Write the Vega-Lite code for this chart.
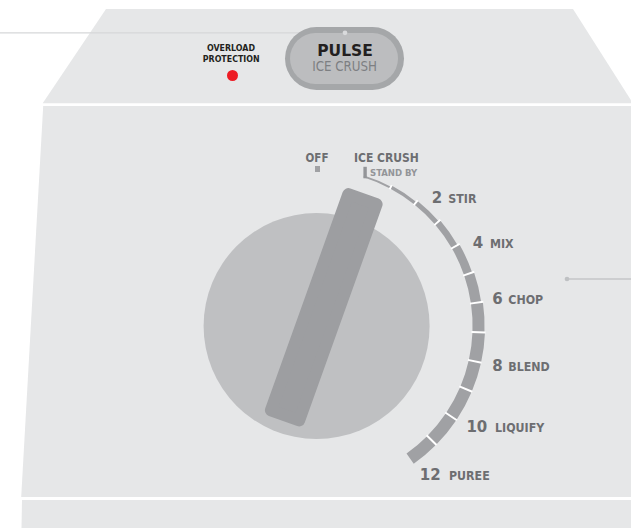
{
  "$schema": "https://vega.github.io/schema/vega-lite/v6.json",
  "width": 631,
  "height": 528,
  "padding": 0,
  "autosize": {"type": "none"},
  "background": "#ffffff",
  "config": {"view": {"stroke": null}},
  "layer": [
    {
      "data": {"values": [
        {"part": "top", "y": 9, "xl": 106, "xr": 573},
        {"part": "top", "y": 103.3, "xl": 42.7, "xr": 633},
        {"part": "front", "y": 106, "xl": 43.2, "xr": 633},
        {"part": "front", "y": 497, "xl": 21.2, "xr": 633},
        {"part": "bottom", "y": 500, "xl": 22.0, "xr": 633},
        {"part": "bottom", "y": 528, "xl": 21.5, "xr": 633}
      ]},
      "mark": {"type": "area", "orient": "horizontal", "color": "#e6e7e8"},
      "encoding": {
        "y": {"field": "y", "type": "quantitative", "scale": {"domain": [0, 528], "reverse": true, "nice": false, "zero": false}, "axis": null},
        "x": {"field": "xl", "type": "quantitative", "stack": null, "scale": {"domain": [0, 631], "nice": false, "zero": false}, "axis": null},
        "x2": {"field": "xr"},
        "detail": {"field": "part"}
      }
    },
    {
      "data": {"values": [{"x": 0, "x2": 345, "y": 32.8}]},
      "mark": {"type": "rule", "color": "#d6d7d9", "strokeWidth": 1.3},
      "encoding": {
        "x": {"field": "x", "type": "quantitative"},
        "x2": {"field": "x2"},
        "y": {"field": "y", "type": "quantitative"}
      }
    },
    {
      "data": {"values": [{"x": 567, "x2": 632, "y": 279}]},
      "mark": {"type": "rule", "color": "#c4c6c8", "strokeWidth": 1.3},
      "encoding": {
        "x": {"field": "x", "type": "quantitative"},
        "x2": {"field": "x2"},
        "y": {"field": "y", "type": "quantitative"}
      }
    },
    {
      "data": {"values": [{"x": 316.5, "x2": 372.5, "y": 58.5}]},
      "mark": {"type": "rule", "color": "#a5a7a9", "strokeWidth": 63, "strokeCap": "round"},
      "encoding": {
        "x": {"field": "x", "type": "quantitative"},
        "x2": {"field": "x2"},
        "y": {"field": "y", "type": "quantitative"}
      }
    },
    {
      "data": {"values": [{"x": 315.5, "x2": 372.5, "y": 58.5}]},
      "mark": {"type": "rule", "color": "#bcbdbf", "strokeWidth": 51, "strokeCap": "round"},
      "encoding": {
        "x": {"field": "x", "type": "quantitative"},
        "x2": {"field": "x2"},
        "y": {"field": "y", "type": "quantitative"}
      }
    },
    {
      "data": {"values": [{"x": 345, "y": 32.8}]},
      "mark": {"type": "circle", "color": "#d9dadc", "size": 22, "opacity": 1},
      "encoding": {
        "x": {"field": "x", "type": "quantitative"},
        "y": {"field": "y", "type": "quantitative"}
      }
    },
    {
      "data": {"values": [{"x": 567, "y": 279}]},
      "mark": {"type": "circle", "color": "#bfc1c3", "size": 22, "opacity": 1},
      "encoding": {
        "x": {"field": "x", "type": "quantitative"},
        "y": {"field": "y", "type": "quantitative"}
      }
    },
    {
      "data": {"values": [{"x": 232.5, "y": 75.5}]},
      "mark": {"type": "circle", "color": "#ed1c24", "size": 121, "opacity": 1},
      "encoding": {
        "x": {"field": "x", "type": "quantitative"},
        "y": {"field": "y", "type": "quantitative"}
      }
    },
    {
      "data": {"values": [
        {"label": "OVERLOAD", "x": 231, "y": 50.5},
        {"label": "PROTECTION", "x": 231.2, "y": 61.5}
      ]},
      "mark": {"type": "text", "align": "center", "baseline": "alphabetic", "font": "DejaVu Sans Condensed, sans-serif", "fontWeight": "bold", "fontSize": 8.8, "color": "#231f20"},
      "encoding": {
        "x": {"field": "x", "type": "quantitative"},
        "y": {"field": "y", "type": "quantitative"},
        "text": {"field": "label"}
      }
    },
    {
      "data": {"values": [{"label": "PULSE", "x": 345, "y": 56.3}]},
      "mark": {"type": "text", "align": "center", "baseline": "alphabetic", "font": "DejaVu Sans", "fontWeight": "bold", "fontSize": 15.5, "color": "#231f20"},
      "encoding": {
        "x": {"field": "x", "type": "quantitative"},
        "y": {"field": "y", "type": "quantitative"},
        "text": {"field": "label"}
      }
    },
    {
      "data": {"values": [{"label": "ICE CRUSH", "x": 344.5, "y": 71}]},
      "mark": {"type": "text", "align": "center", "baseline": "alphabetic", "font": "DejaVu Sans Condensed, sans-serif", "fontSize": 13.2, "color": "#7d7f82"},
      "encoding": {
        "x": {"field": "x", "type": "quantitative"},
        "y": {"field": "y", "type": "quantitative"},
        "text": {"field": "label"}
      }
    },
    {
      "data": {"values": [{"cx": 316.6, "cy": 326, "t0": 0, "t1": 360, "r": 113}]},
      "mark": {"type": "arc", "color": "#bfc0c2"},
      "encoding": {
        "x": {"field": "cx", "type": "quantitative"},
        "y": {"field": "cy", "type": "quantitative"},
        "theta": {"field": "t0", "type": "quantitative", "stack": null, "scale": {"type": "linear", "domain": [0, 360], "range": [0, 6.283185307179586], "zero": false, "nice": false}},
        "theta2": {"field": "t1"},
        "radius": {"field": "r", "type": "quantitative", "scale": {"type": "linear", "domain": [0, 200], "range": [0, 200], "zero": false, "nice": false}}
      }
    },
    {
      "data": {"values": [{"x": 362.48, "y": 199.15, "x2": 285.02, "y2": 415.35}]},
      "mark": {"type": "rule", "color": "#9d9ea1", "strokeWidth": 30, "strokeCap": "butt"},
      "encoding": {
        "x": {"field": "x", "type": "quantitative"},
        "y": {"field": "y", "type": "quantitative"},
        "x2": {"field": "x2"},
        "y2": {"field": "y2"}
      }
    },
    {
      "data": {"values": [
        {"i": 0, "x": 348.36, "y": 194.09},
        {"i": 1, "x": 376.60, "y": 204.21},
        {"i": 2, "x": 299.14, "y": 420.41},
        {"i": 3, "x": 270.90, "y": 410.29},
        {"i": 4, "x": 348.36, "y": 194.09}
      ]},
      "mark": {"type": "line", "color": "#9d9ea1", "strokeWidth": 12, "strokeJoin": "round", "strokeCap": "round"},
      "encoding": {
        "x": {"field": "x", "type": "quantitative"},
        "y": {"field": "y", "type": "quantitative"},
        "order": {"field": "i", "type": "quantitative"}
      }
    },
    {
      "data": {"values": [
        {"speed": 1, "cx": 316.6, "cy": 326, "t0": 17.5, "t1": 28.1, "ro": 157.8, "ri": 156},
        {"speed": 2, "cx": 316.6, "cy": 326, "t0": 28.1, "t1": 38.8, "ro": 159.2, "ri": 156},
        {"speed": 3, "cx": 316.6, "cy": 326, "t0": 38.8, "t1": 49.4, "ro": 160.8, "ri": 156},
        {"speed": 4, "cx": 316.6, "cy": 326, "t0": 49.4, "t1": 60.1, "ro": 162.6, "ri": 156},
        {"speed": 5, "cx": 316.6, "cy": 326, "t0": 60.1, "t1": 71.0, "ro": 164.5, "ri": 156},
        {"speed": 6, "cx": 316.6, "cy": 326, "t0": 71.0, "t1": 81.7, "ro": 166.3, "ri": 156},
        {"speed": 7, "cx": 316.6, "cy": 326, "t0": 81.7, "t1": 92.2, "ro": 168.0, "ri": 156},
        {"speed": 8, "cx": 316.6, "cy": 326, "t0": 92.2, "t1": 102.6, "ro": 168.5, "ri": 156},
        {"speed": 9, "cx": 316.6, "cy": 326, "t0": 102.6, "t1": 112.9, "ro": 168.5, "ri": 156},
        {"speed": 10, "cx": 316.6, "cy": 326, "t0": 112.9, "t1": 123.9, "ro": 168.5, "ri": 156},
        {"speed": 11, "cx": 316.6, "cy": 326, "t0": 123.9, "t1": 134.8, "ro": 168.5, "ri": 156},
        {"speed": 12, "cx": 316.6, "cy": 326, "t0": 134.8, "t1": 144.8, "ro": 168.5, "ri": 156}
      ]},
      "mark": {"type": "arc", "color": "#a0a1a4"},
      "encoding": {
        "x": {"field": "cx", "type": "quantitative"},
        "y": {"field": "cy", "type": "quantitative"},
        "theta": {"field": "t0", "type": "quantitative", "stack": null},
        "theta2": {"field": "t1"},
        "radius": {"field": "ro", "type": "quantitative"},
        "radius2": {"field": "ri"}
      }
    },
    {
      "data": {"values": [
        {"cx": 316.6, "cy": 326, "t0": 27.75, "t1": 28.45, "ro": 159.7, "ri": 155},
        {"cx": 316.6, "cy": 326, "t0": 38.45, "t1": 39.15, "ro": 161.3, "ri": 155},
        {"cx": 316.6, "cy": 326, "t0": 49.05, "t1": 49.75, "ro": 163.1, "ri": 155},
        {"cx": 316.6, "cy": 326, "t0": 59.75, "t1": 60.45, "ro": 165.0, "ri": 155},
        {"cx": 316.6, "cy": 326, "t0": 70.65, "t1": 71.35, "ro": 166.8, "ri": 155},
        {"cx": 316.6, "cy": 326, "t0": 81.35, "t1": 82.05, "ro": 168.5, "ri": 155},
        {"cx": 316.6, "cy": 326, "t0": 91.85, "t1": 92.55, "ro": 169.0, "ri": 155},
        {"cx": 316.6, "cy": 326, "t0": 102.25, "t1": 102.95, "ro": 169.0, "ri": 155},
        {"cx": 316.6, "cy": 326, "t0": 112.55, "t1": 113.25, "ro": 169.0, "ri": 155},
        {"cx": 316.6, "cy": 326, "t0": 123.55, "t1": 124.25, "ro": 169.0, "ri": 155},
        {"cx": 316.6, "cy": 326, "t0": 134.45, "t1": 135.15, "ro": 169.0, "ri": 155}
      ]},
      "mark": {"type": "arc", "color": "#ffffff"},
      "encoding": {
        "x": {"field": "cx", "type": "quantitative"},
        "y": {"field": "cy", "type": "quantitative"},
        "theta": {"field": "t0", "type": "quantitative", "stack": null},
        "theta2": {"field": "t1"},
        "radius": {"field": "ro", "type": "quantitative"},
        "radius2": {"field": "ri"}
      }
    },
    {
      "data": {"values": [{"x": 315, "x2": 320, "y": 166, "y2": 172}]},
      "mark": {"type": "rect", "color": "#a0a1a4"},
      "encoding": {
        "x": {"field": "x", "type": "quantitative"},
        "x2": {"field": "x2"},
        "y": {"field": "y", "type": "quantitative"},
        "y2": {"field": "y2"}
      }
    },
    {
      "data": {"values": [{"x": 363.4, "x2": 366.8, "y": 166.8, "y2": 178.3}]},
      "mark": {"type": "rect", "color": "#939598"},
      "encoding": {
        "x": {"field": "x", "type": "quantitative"},
        "x2": {"field": "x2"},
        "y": {"field": "y", "type": "quantitative"},
        "y2": {"field": "y2"}
      }
    },
    {
      "data": {"values": [{"label": "OFF", "x": 317, "y": 161.7}]},
      "mark": {"type": "text", "align": "center", "baseline": "alphabetic", "font": "DejaVu Sans Condensed, sans-serif", "fontWeight": "bold", "fontSize": 11.5, "color": "#6d6e71"},
      "encoding": {
        "x": {"field": "x", "type": "quantitative"},
        "y": {"field": "y", "type": "quantitative"},
        "text": {"field": "label"}
      }
    },
    {
      "data": {"values": [{"label": "ICE CRUSH", "x": 354, "y": 161.7}]},
      "mark": {"type": "text", "align": "left", "baseline": "alphabetic", "font": "DejaVu Sans Condensed, sans-serif", "fontWeight": "bold", "fontSize": 12, "color": "#6d6e71"},
      "encoding": {
        "x": {"field": "x", "type": "quantitative"},
        "y": {"field": "y", "type": "quantitative"},
        "text": {"field": "label"}
      }
    },
    {
      "data": {"values": [{"label": "STAND BY", "x": 370, "y": 176}]},
      "mark": {"type": "text", "align": "left", "baseline": "alphabetic", "font": "DejaVu Sans Condensed, sans-serif", "fontWeight": "bold", "fontSize": 9.5, "color": "#939598"},
      "encoding": {
        "x": {"field": "x", "type": "quantitative"},
        "y": {"field": "y", "type": "quantitative"},
        "text": {"field": "label"}
      }
    },
    {
      "data": {"values": [
        {"num": "2", "x": 442.3, "y": 202.7},
        {"num": "4", "x": 483.3, "y": 248.3},
        {"num": "6", "x": 502.7, "y": 304},
        {"num": "8", "x": 502.7, "y": 370.7},
        {"num": "10", "x": 487.3, "y": 432.3},
        {"num": "12", "x": 440.7, "y": 480}
      ]},
      "mark": {"type": "text", "align": "right", "baseline": "alphabetic", "font": "DejaVu Sans", "fontWeight": "bold", "fontSize": 15, "color": "#6d6e71"},
      "encoding": {
        "x": {"field": "x", "type": "quantitative"},
        "y": {"field": "y", "type": "quantitative"},
        "text": {"field": "num"}
      }
    },
    {
      "data": {"values": [
        {"name": "STIR", "x": 448.3, "y": 202.7},
        {"name": "MIX", "x": 490, "y": 248.3},
        {"name": "CHOP", "x": 508.3, "y": 304},
        {"name": "BLEND", "x": 508.3, "y": 370.7},
        {"name": "LIQUIFY", "x": 495, "y": 432.3},
        {"name": "PUREE", "x": 449, "y": 480}
      ]},
      "mark": {"type": "text", "align": "left", "baseline": "alphabetic", "font": "DejaVu Sans Condensed, sans-serif", "fontWeight": "bold", "fontSize": 12.3, "color": "#6d6e71"},
      "encoding": {
        "x": {"field": "x", "type": "quantitative"},
        "y": {"field": "y", "type": "quantitative"},
        "text": {"field": "name"}
      }
    }
  ]
}
